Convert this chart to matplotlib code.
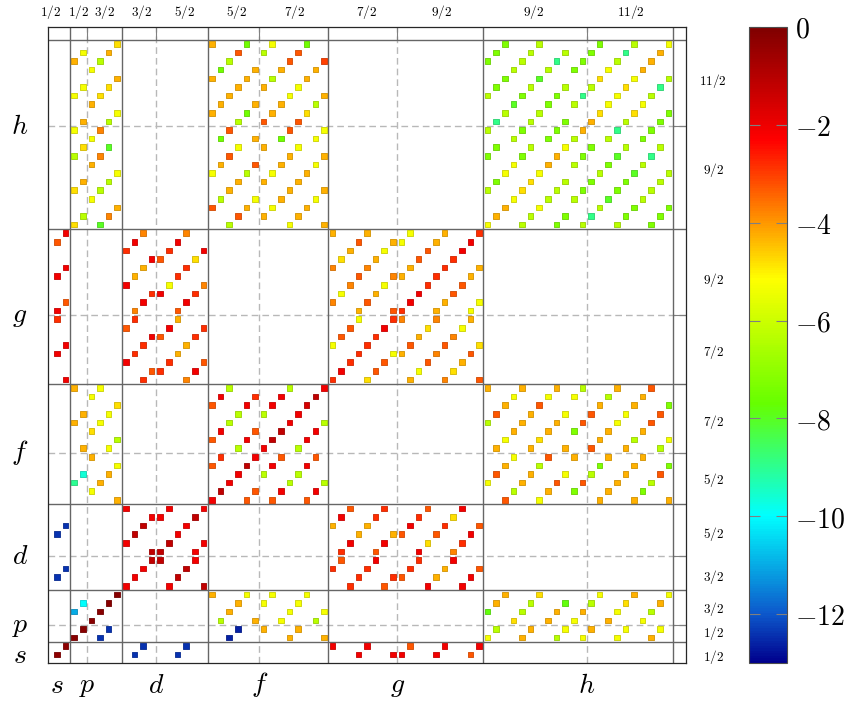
import matplotlib
matplotlib.use('Agg')
import matplotlib.pyplot as plt
from matplotlib.colors import LinearSegmentedColormap, Normalize
from matplotlib.cm import ScalarMappable

plt.rcParams['mathtext.fontset'] = 'cm'

# ---- matrix entries: row -> [(col, log10 value), ...] ----
h_rows = {
    71: [(7, -4.8), (18, -4.3), (22, -7.5), (25, -5.3), (29, -7.5), (52, -7.3), (56, -6.3), (63, -7.3), (67, -6.3), (71, -5.3)],
    70: [(3, -5.3), (6, -4.3), (21, -3.3), (24, -6.3), (28, -3.3), (51, -7.3), (55, -6.3), (59, -6.3), (62, -7.3), (66, -8.9), (70, -4.3)],
    69: [(2, -4.3), (5, -6.3), (20, -6.3), (27, -3.3), (31, -3.0), (50, -7.3), (54, -6.3), (58, -8.9), (61, -7.3), (65, -6.3), (69, -4.3)],
    68: [(4, -5.3), (19, -7.5), (23, -4.3), (26, -4.3), (30, -4.3), (53, -6.3), (57, -6.3), (60, -7.3), (64, -5.3), (68, -4.3)],
    67: [(7, -4.3), (18, -4.3), (22, -4.3), (25, -6.3), (29, -4.3), (52, -7.3), (56, -8.0), (63, -4.8), (67, -5.3), (71, -6.3)],
    66: [(3, -5.3), (6, -4.8), (21, -4.3), (24, -4.3), (28, -5.3), (51, -7.3), (55, -6.3), (59, -6.3), (62, -6.3), (66, -4.8), (70, -8.9)],
    65: [(2, -5.3), (5, -4.8), (20, -4.3), (27, -5.3), (31, -4.3), (50, -6.3), (54, -7.3), (58, -7.3), (61, -8.9), (65, -5.3), (69, -6.3)],
    64: [(4, -4.3), (19, -4.3), (23, -4.3), (26, -4.3), (30, -6.3), (53, -8.0), (57, -7.3), (60, -6.3), (64, -5.3), (68, -5.3)],
    63: [(7, -5.3), (18, -4.3), (22, -7.5), (25, -4.3), (29, -4.8), (52, -6.3), (56, -6.3), (63, -4.8), (67, -4.8), (71, -7.3)],
    62: [(3, -4.3), (6, -6.3), (21, -6.3), (24, -3.3), (28, -3.3), (51, -8.9), (55, -6.3), (59, -7.3), (62, -4.3), (66, -6.3), (70, -7.3)],
    61: [(2, -5.3), (5, -3.8), (20, -3.3), (27, -3.3), (31, -5.3), (50, -6.3), (54, -7.3), (58, -7.3), (61, -4.3), (65, -8.9), (69, -7.3)],
    60: [(4, -5.3), (19, -7.5), (23, -4.3), (26, -7.5), (30, -5.3), (53, -6.3), (57, -7.3), (60, -6.3), (64, -6.3), (68, -7.3)],
    59: [(3, -4.8), (6, -8.0), (21, -5.3), (24, -4.3), (28, -5.3), (51, -7.3), (55, -6.3), (59, -5.3), (62, -7.3), (66, -6.3), (70, -6.3)],
    58: [(2, -6.3), (5, -3.8), (20, -3.3), (27, -4.3), (31, -4.3), (50, -7.3), (54, -7.3), (58, -4.3), (61, -7.3), (65, -8.0), (69, -8.9)],
    57: [(4, -4.3), (19, -4.3), (23, -3.3), (26, -4.3), (30, -5.3), (53, -5.3), (57, -4.3), (60, -6.3), (64, -7.3), (68, -6.3)],
    56: [(7, -5.3), (18, -5.3), (22, -6.3), (25, -5.3), (29, -4.3), (52, -5.3), (56, -5.3), (63, -6.3), (67, -8.0), (71, -6.3)],
    55: [(3, -4.3), (6, -6.3), (21, -4.3), (24, -4.3), (28, -4.3), (51, -7.3), (55, -4.8), (59, -6.3), (62, -7.3), (66, -7.3), (70, -6.3)],
    54: [(2, -4.8), (5, -6.3), (20, -4.3), (27, -4.3), (31, -4.3), (50, -6.3), (54, -4.8), (58, -6.3), (61, -7.3), (65, -7.3), (69, -6.3)],
    53: [(4, -5.3), (19, -6.3), (23, -5.3), (26, -4.3), (30, -5.3), (53, -5.3), (57, -6.3), (60, -6.3), (64, -8.0), (68, -6.3)],
    52: [(7, -4.3), (18, -3.3), (22, -4.3), (25, -5.3), (29, -4.3), (52, -4.3), (56, -5.3), (63, -6.3), (67, -7.3), (71, -7.3)],
    51: [(3, -6.3), (6, -3.8), (21, -3.3), (24, -4.3), (28, -4.3), (51, -4.3), (55, -6.3), (59, -7.3), (62, -8.9), (66, -7.3), (70, -7.3)],
    50: [(2, -4.8), (5, -8.0), (20, -6.3), (27, -5.3), (31, -4.3), (50, -5.3), (54, -6.3), (58, -7.3), (61, -6.3), (65, -6.3), (69, -7.3)],
}

g_rows = {
    49: [(1, -2.1), (10, -3.8), (15, -3.8), (32, -4.3), (36, -4.3), (41, -5.3), (45, -4.3), (49, -2.8)],
    48: [(0, -3.3), (9, -2.1), (14, -2.1), (35, -3.3), (39, -4.3), (40, -5.3), (44, -4.3), (48, -2.1)],
    47: [(8, -2.8), (13, -2.8), (17, -2.1), (34, -4.3), (38, -5.3), (43, -3.3), (47, -2.1)],
    46: [(11, -2.1), (12, -3.3), (16, -4.8), (33, -4.8), (37, -4.3), (42, -3.3), (46, -2.8)],
    45: [(1, -2.1), (10, -4.3), (15, -2.8), (32, -3.8), (36, -3.8), (41, -4.3), (45, -2.8), (49, -4.3)],
    44: [(0, -2.1), (9, -4.3), (14, -2.8), (35, -3.3), (39, -3.8), (40, -4.3), (44, -2.8), (48, -4.3)],
    43: [(8, -2.1), (13, -5.3), (17, -3.8), (34, -3.8), (38, -5.3), (43, -2.8), (47, -3.3)],
    42: [(11, -2.8), (12, -2.1), (16, -2.8), (33, -5.3), (37, -4.3), (42, -2.1), (46, -3.3)],
    41: [(1, -3.3), (10, -2.1), (15, -2.1), (32, -3.8), (36, -3.3), (41, -2.1), (45, -4.3), (49, -5.3)],
    40: [(0, -2.1), (9, -3.8), (14, -3.3), (35, -4.3), (39, -3.3), (40, -2.8), (44, -4.3), (48, -5.3)],
    39: [(0, -2.8), (9, -2.8), (14, -4.3), (35, -5.3), (39, -2.8), (40, -3.8), (44, -3.8), (48, -4.3)],
    38: [(8, -3.3), (13, -2.1), (17, -2.8), (34, -3.3), (38, -2.1), (43, -4.8), (47, -5.3)],
    37: [(11, -2.1), (12, -3.3), (16, -2.8), (33, -3.3), (37, -2.8), (42, -4.3), (46, -3.8)],
    36: [(1, -2.1), (10, -2.8), (15, -4.3), (32, -5.3), (36, -2.8), (41, -3.3), (45, -3.3), (49, -4.8)],
    35: [(0, -2.1), (9, -2.8), (14, -4.3), (35, -2.8), (39, -5.3), (40, -4.3), (44, -3.8), (48, -3.3)],
    34: [(8, -2.1), (13, -2.8), (17, -3.3), (34, -2.8), (38, -3.3), (43, -3.3), (47, -4.3)],
    33: [(11, -3.3), (12, -2.8), (16, -2.1), (33, -2.1), (37, -3.3), (42, -5.3), (46, -4.8)],
    32: [(1, -2.1), (10, -2.8), (15, -3.8), (32, -2.8), (36, -4.8), (41, -4.3), (45, -3.8), (49, -3.3)],
}

f_rows = {
    31: [(2, -4.3), (5, -5.3), (20, -6.3), (27, -6.3), (31, -2.1), (50, -4.3), (54, -4.3), (58, -4.3), (61, -6.3), (65, -4.3), (69, -3.3)],
    30: [(4, -5.3), (19, -2.1), (23, -2.8), (26, -2.1), (30, -1.2), (53, -5.3), (57, -5.3), (60, -5.3), (64, -6.3), (68, -4.3)],
    29: [(7, -4.8), (18, -3.3), (22, -2.1), (25, -2.1), (29, -1.6), (52, -4.3), (56, -3.3), (63, -4.3), (67, -4.3), (71, -7.3)],
    28: [(3, -4.3), (6, -5.3), (21, -6.3), (24, -6.3), (28, -2.1), (51, -3.3), (55, -4.3), (59, -5.3), (62, -3.3), (66, -5.3), (70, -3.3)],
    27: [(2, -4.3), (5, -5.3), (20, -6.3), (27, -2.1), (31, -6.3), (50, -6.3), (54, -4.3), (58, -4.3), (61, -3.3), (65, -5.3), (69, -3.3)],
    26: [(4, -4.8), (19, -2.1), (23, -3.3), (26, -1.2), (30, -2.1), (53, -4.3), (57, -4.3), (60, -7.3), (64, -4.3), (68, -4.3)],
    25: [(7, -6.3), (18, -3.3), (22, -2.1), (25, -1.2), (29, -2.1), (52, -5.3), (56, -4.8), (63, -4.3), (67, -6.3), (71, -5.3)],
    24: [(3, -4.3), (6, -5.3), (21, -6.3), (24, -2.1), (28, -6.3), (51, -4.3), (55, -4.3), (59, -4.3), (62, -3.3), (66, -4.3), (70, -6.3)],
    23: [(4, -4.3), (19, -2.8), (23, -2.1), (26, -3.3), (30, -3.3), (53, -5.3), (57, -3.3), (60, -4.3), (64, -4.3), (68, -4.3)],
    22: [(7, -5.3), (18, -3.3), (22, -1.2), (25, -2.1), (29, -2.1), (52, -4.3), (56, -6.3), (63, -7.3), (67, -4.3), (71, -7.3)],
    21: [(3, -9.6), (6, -4.3), (21, -2.1), (24, -6.3), (28, -6.3), (51, -3.3), (55, -4.3), (59, -5.3), (62, -6.3), (66, -4.3), (70, -3.3)],
    20: [(2, -9.0), (5, -4.3), (20, -2.1), (27, -6.3), (31, -6.3), (50, -5.3), (54, -4.3), (58, -3.3), (61, -3.3), (65, -4.3), (69, -6.3)],
    19: [(4, -5.3), (19, -1.2), (23, -3.3), (26, -2.1), (30, -2.1), (53, -6.3), (57, -4.3), (60, -7.3), (64, -4.3), (68, -7.3)],
    18: [(7, -4.3), (18, -2.1), (22, -3.3), (25, -3.3), (29, -3.3), (52, -3.3), (56, -5.3), (63, -4.3), (67, -4.3), (71, -4.3)],
}

d_rows = {
    17: [(8, -2.1), (13, -2.1), (17, -2.1), (34, -3.3), (38, -2.8), (43, -3.3), (47, -2.1)],
    16: [(11, -2.1), (12, -2.1), (16, -1.2), (33, -2.1), (37, -2.8), (42, -2.8), (46, -4.8)],
    15: [(1, -12.4), (10, -1.2), (15, -2.1), (32, -4.3), (36, -4.3), (41, -2.1), (45, -2.8), (49, -3.3)],
    14: [(0, -12.4), (9, -1.2), (14, -2.1), (35, -4.3), (39, -4.3), (40, -3.3), (44, -3.3), (48, -2.1)],
    13: [(8, -2.1), (13, -1.2), (17, -2.1), (34, -2.1), (38, -2.1), (43, -4.8), (47, -2.8)],
    12: [(11, -1.2), (12, -1.2), (16, -2.1), (33, -2.8), (37, -3.3), (42, -2.1), (46, -3.8)],
    11: [(11, -1.2), (12, -1.2), (16, -2.1), (33, -3.3), (37, -2.1), (42, -2.8), (46, -2.1)],
    10: [(1, -12.4), (10, -2.1), (15, -1.2), (32, -2.8), (36, -2.8), (41, -2.8), (45, -4.3), (49, -3.3)],
    9: [(0, -12.4), (9, -2.1), (14, -1.2), (35, -2.8), (39, -2.8), (40, -3.3), (44, -4.3), (48, -2.1)],
    8: [(8, -2.1), (13, -2.1), (17, -1.2), (34, -2.8), (38, -3.3), (43, -2.1), (47, -2.1)],
}

p_rows = {
    7: [(7, -0.2), (18, -4.3), (22, -5.3), (25, -5.3), (29, -5.3), (52, -4.3), (56, -4.8), (63, -5.3), (67, -4.3), (71, -5.3)],
    6: [(3, -10.0), (6, -0.2), (21, -4.3), (24, -5.3), (28, -5.3), (51, -4.3), (55, -6.3), (59, -7.8), (62, -6.3), (66, -4.8), (70, -4.3)],
    5: [(2, -11.0), (5, -0.2), (20, -4.3), (27, -5.3), (31, -5.3), (50, -7.8), (54, -6.3), (58, -4.3), (61, -4.3), (65, -5.3), (69, -6.3)],
    4: [(4, -0.2), (19, -6.3), (23, -4.3), (26, -5.3), (30, -6.3), (53, -4.8), (57, -4.3), (60, -5.3), (64, -4.3), (68, -5.3)],
    3: [(3, -0.2), (6, -12.4), (21, -12.6), (24, -4.3), (28, -4.3), (51, -6.3), (55, -4.3), (59, -5.3), (62, -4.3), (66, -5.3), (70, -5.3)],
    2: [(2, -0.2), (5, -12.4), (20, -12.6), (27, -4.3), (31, -4.3), (50, -5.3), (54, -4.3), (58, -6.3), (61, -5.3), (65, -5.3), (69, -4.3)],
}

s_rows = {
    1: [(1, -0.3), (10, -12.4), (15, -12.4), (32, -2.1), (36, -2.1), (41, -3.3), (45, -2.1), (49, -2.1)],
    0: [(0, -0.3), (9, -12.4), (14, -12.4), (35, -2.1), (39, -2.1), (40, -2.1), (44, -2.1), (48, -3.3)],
}

# ---- axis annotations ----
shell_names = ['s', 'p', 'd', 'f', 'g', 'h']
shell_pos = [0, 3.5, 11.5, 23.5, 39.5, 61.5]
block_edges = [1.5, 7.5, 17.5, 31.5, 49.5, 71.5]
j_split = [3.5, 11.5, 23.5, 39.5, 61.5]
top_j_pos = [-0.75, 2.5, 5.5, 9.8, 14.8, 20.8, 27.6, 35.9, 44.7, 55.3, 66.6]
right_j_pos = [-0.3, 2.5, 5.3, 9.0, 14.0, 20.3, 27.0, 35.2, 43.5, 56.3, 66.7]
j_labels = ['1/2', '1/2', '3/2', '3/2', '5/2', '5/2', '7/2', '7/2', '9/2', '9/2', '11/2']
cbar_ticks = [0, -2, -4, -6, -8, -10, -12]

cmap = LinearSegmentedColormap.from_list('cb', [
    (0.0, (0.0, 0.0, 0.55)),
    (1 / 13, (0.05, 0.35, 0.8)),
    (3 / 13, (0.0, 1.0, 1.0)),
    (5.3 / 13, (0.4, 1.0, 0.0)),
    (7.85 / 13, (1.0, 1.0, 0.0)),
    (10.7 / 13, (1.0, 0.0, 0.0)),
    (1.0, (0.5, 0.0, 0.0)),
])
norm = Normalize(vmin=-13, vmax=0)

xs, ys, vals = [], [], []
for rows in (h_rows, g_rows, f_rows, d_rows, p_rows, s_rows):
    for r, entries in rows.items():
        for c, v in entries:
            xs.append(c)
            ys.append(r)
            vals.append(v)

fig = plt.figure(figsize=(8.46, 7.02), dpi=100)
ax = fig.add_axes([48.3 / 846, 1 - 663.3 / 702, 637.4 / 846, 636.6 / 702])
ax.set_xlim(-1, 73)
ax.set_ylim(-1, 73)

for p in j_split:
    ax.axvline(p, color='0.72', lw=1.0, ls=(0, (4.8, 2.9)), zorder=1)
    ax.axhline(p, color='0.72', lw=1.0, ls=(0, (4.8, 2.9)), zorder=1)
for e in block_edges:
    ax.axvline(e, color='0.4', lw=1.0, zorder=2)
    ax.axhline(e, color='0.4', lw=1.0, zorder=2)

face = cmap(norm(vals))
edge = face.copy()
edge[:, :3] *= 0.82
ax.scatter(xs, ys, c=face, marker='s', s=16, edgecolors=edge, linewidths=0.6, zorder=3)

ax.set_xticks(j_split)
ax.set_yticks(j_split)
ax.tick_params(axis='x', direction='in', top=True, bottom=False, labelbottom=False,
               length=9.4, width=0.8, color='0.5')
ax.tick_params(axis='y', direction='in', right=True, left=False, labelleft=False,
               length=9.4, width=0.8, color='0.5')
for sp in ax.spines.values():
    sp.set_linewidth(0.9)
    sp.set_color('0.15')

for name, pos in zip(shell_names, shell_pos):
    ax.text(-4.3, pos, f'${name}$', fontsize=20, ha='center', va='center', clip_on=False)
    ax.text(pos, -3.5, f'${name}$', fontsize=20, ha='center', va='center', clip_on=False)
for lab, pos in zip(j_labels, top_j_pos):
    ax.text(pos, 74.7, f'${lab}$', fontsize=9.5, ha='center', va='center', clip_on=False)
for lab, pos in zip(j_labels, right_j_pos):
    ax.text(76.2, pos, f'${lab}$', fontsize=9.5, ha='center', va='center', clip_on=False)

cax = fig.add_axes([749 / 846, 1 - 663 / 702, 38 / 846, 636 / 702])
sm = ScalarMappable(norm=norm, cmap=cmap)
cbar = fig.colorbar(sm, cax=cax, ticks=cbar_ticks)
cbar.set_ticklabels([f'${t}$' for t in cbar_ticks])
cbar.ax.tick_params(direction='in', length=8, width=0.8, color='0.5', left=True, right=True,
                    labelsize=20, pad=6)
cbar.outline.set_linewidth(0.8)
cbar.outline.set_edgecolor('0.3')

fig.savefig('out.png', dpi=100)
